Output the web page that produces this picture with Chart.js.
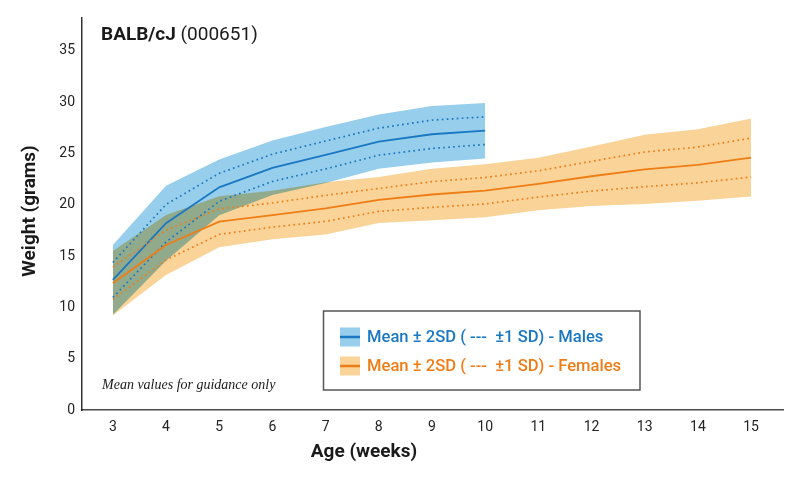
<!DOCTYPE html>
<html>
<head>
<meta charset="utf-8">
<script src="https://cdn.jsdelivr.net/npm/chart.js@4.4.1/dist/chart.umd.min.js"></script>
<style>
    html, body { margin: 0; padding: 0; background: #fff; }
    #wrap { width: 800px; height: 484px; }
</style>
</head>
<body>
<div id="wrap"><canvas id="weightChart" width="800" height="484"></canvas></div>
<script>
// values (grams)
const maleAges = [3, 4, 5, 6, 7, 8, 9, 10];
const maleMean = [12.67, 18.2, 21.7, 23.6, 24.85, 26.15, 26.87, 27.22];
const maleSD = [1.7, 1.83, 1.36, 1.33, 1.36, 1.32, 1.38, 1.35];

const femaleAges = [3, 4, 5, 6, 7, 8, 9, 10, 11, 12, 13, 14, 15];
const femaleMean = [12.35, 16.08, 18.35, 19.0, 19.65, 20.47, 21.0, 21.37, 22.03, 22.78, 23.45, 23.88, 24.6];
const femaleSD = [1.57, 1.46, 1.24, 1.18, 1.27, 1.12, 1.25, 1.29, 1.28, 1.45, 1.69, 1.74, 1.9];

const xTicks = [3, 4, 5, 6, 7, 8, 9, 10, 11, 12, 13, 14, 15];
const yTicks = [0, 5, 10, 15, 20, 25, 30, 35];

const maleBand = '#96ceec';
const maleLine = '#1a78c2';
const femaleBand = '#f9d397';
const femaleLine = '#ef7d16';

const pts = (ages, mean, sd, k) => ages.map((a, i) => ({ x: a, y: mean[i] + k * sd[i] }));

const bandTop = (label, ages, mean, sd, color) => ({
    label: label, data: pts(ages, mean, sd, 2), borderWidth: 0, pointRadius: 0,
    backgroundColor: color, fill: '+1'
});
const bandBottom = (label, ages, mean, sd) => ({
    label: label, data: pts(ages, mean, sd, -2), borderWidth: 0, pointRadius: 0, fill: false
});
const meanLine = (label, ages, mean, sd, color) => ({
    label: label, data: pts(ages, mean, sd, 0), borderColor: color, borderWidth: 1.8,
    pointRadius: 0, fill: false
});
const dotLine = (label, ages, mean, sd, k, color) => ({
    label: label, data: pts(ages, mean, sd, k), borderColor: color, borderWidth: 1.7,
    borderDash: [1.7, 3.3], pointRadius: 0, fill: false
});

// fills are multiplied so the overlap turns olive, lines are drawn normally
const blendPlugin = {
    id: 'blend',
    beforeDraw(chart) { chart.ctx.globalCompositeOperation = 'multiply'; },
    beforeDatasetsDraw(chart) { chart.ctx.globalCompositeOperation = 'source-over'; }
};

const textPlugin = {
    id: 'texts',
    afterDraw(chart) {
        const ctx = chart.ctx;
        ctx.save();
        ctx.fillStyle = '#1a1a1a';
        ctx.textBaseline = 'alphabetic';
        ctx.textAlign = 'left';
        ctx.font = 'bold 19px Roboto';
        ctx.fillText('BALB/cJ', 101, 40);
        const w = ctx.measureText('BALB/cJ').width;
        ctx.font = '19px Roboto';
        ctx.fillText(' (000651)', 101 + w, 40);

        ctx.font = 'bold 19px Roboto';
        ctx.textAlign = 'center';
        ctx.textBaseline = 'middle';
        ctx.fillText('Age (weeks)', 364, 452);
        ctx.save();
        ctx.translate(30, 211);
        ctx.rotate(-Math.PI / 2);
        ctx.fillText('Weight (grams)', 0, 0);
        ctx.restore();

        ctx.textAlign = 'left';
        ctx.font = 'italic 14px "Liberation Serif"';
        ctx.fillText('Mean values for guidance only', 102, 385);

        // legend
        ctx.strokeStyle = '#555';
        ctx.lineWidth = 1.5;
        ctx.strokeRect(323.5, 311, 316.5, 79);
        const rows = [
            { y: 337, band: maleBand, line: maleLine, text: 'Mean \u00b1 2SD ( ---  \u00b11 SD) - Males' },
            { y: 366, band: femaleBand, line: femaleLine, text: 'Mean \u00b1 2SD ( ---  \u00b11 SD) - Females' }
        ];
        rows.forEach(r => {
            ctx.fillStyle = r.band;
            ctx.fillRect(340, r.y - 9.5, 20, 19);
            ctx.strokeStyle = r.line;
            ctx.lineWidth = 2.5;
            ctx.beginPath();
            ctx.moveTo(340, r.y);
            ctx.lineTo(360, r.y);
            ctx.stroke();
            ctx.fillStyle = r.line;
            ctx.font = '500 16.6px Roboto';
            ctx.fillText(r.text, 367, r.y + 1);
        });
        ctx.restore();
    }
};

const ctx = document.getElementById('weightChart').getContext('2d');
const weightChart = new Chart(ctx, {
    type: 'line',
    data: {
        datasets: [
            bandTop('Females +2SD', femaleAges, femaleMean, femaleSD, femaleBand),
            bandBottom('Females -2SD', femaleAges, femaleMean, femaleSD),
            bandTop('Males +2SD', maleAges, maleMean, maleSD, maleBand),
            bandBottom('Males -2SD', maleAges, maleMean, maleSD),
            dotLine('Females +1SD', femaleAges, femaleMean, femaleSD, 1, femaleLine),
            dotLine('Females -1SD', femaleAges, femaleMean, femaleSD, -1, femaleLine),
            meanLine('Females mean', femaleAges, femaleMean, femaleSD, femaleLine),
            dotLine('Males +1SD', maleAges, maleMean, maleSD, 1, maleLine),
            dotLine('Males -1SD', maleAges, maleMean, maleSD, -1, maleLine),
            meanLine('Males mean', maleAges, maleMean, maleSD, maleLine)
        ]
    },
    options: {
        responsive: false,
        animation: false,
        layout: { padding: { left: 0, top: 18, right: 17, bottom: 0 } },
        plugins: {
            legend: { display: false },
            tooltip: { enabled: false },
            filler: { drawTime: 'beforeDatasetsDraw' }
        },
        elements: { line: { tension: 0 } },
        scales: {
            x: {
                type: 'linear',
                min: 2.42,
                max: 15.6,
                afterBuildTicks: scale => { scale.ticks = xTicks.map(v => ({ value: v })); },
                afterFit: scale => { scale.height = 74; },
                grid: { display: false, drawTicks: false },
                border: { display: true, color: '#4a4a4a', width: 1.5 },
                ticks: { padding: 9, color: '#222', font: { family: 'Roboto', size: 14 } }
            },
            y: {
                type: 'linear',
                min: 0,
                max: 38.2,
                afterBuildTicks: scale => { scale.ticks = yTicks.map(v => ({ value: v })); },
                afterFit: scale => { scale.width = 82; },
                grid: { display: false, drawTicks: false },
                border: { display: true, color: '#333', width: 1.5 },
                ticks: { padding: 7, color: '#222', font: { family: 'Roboto', size: 14 } }
            }
        }
    },
    plugins: [blendPlugin, textPlugin]
});
</script>
</body>
</html>
